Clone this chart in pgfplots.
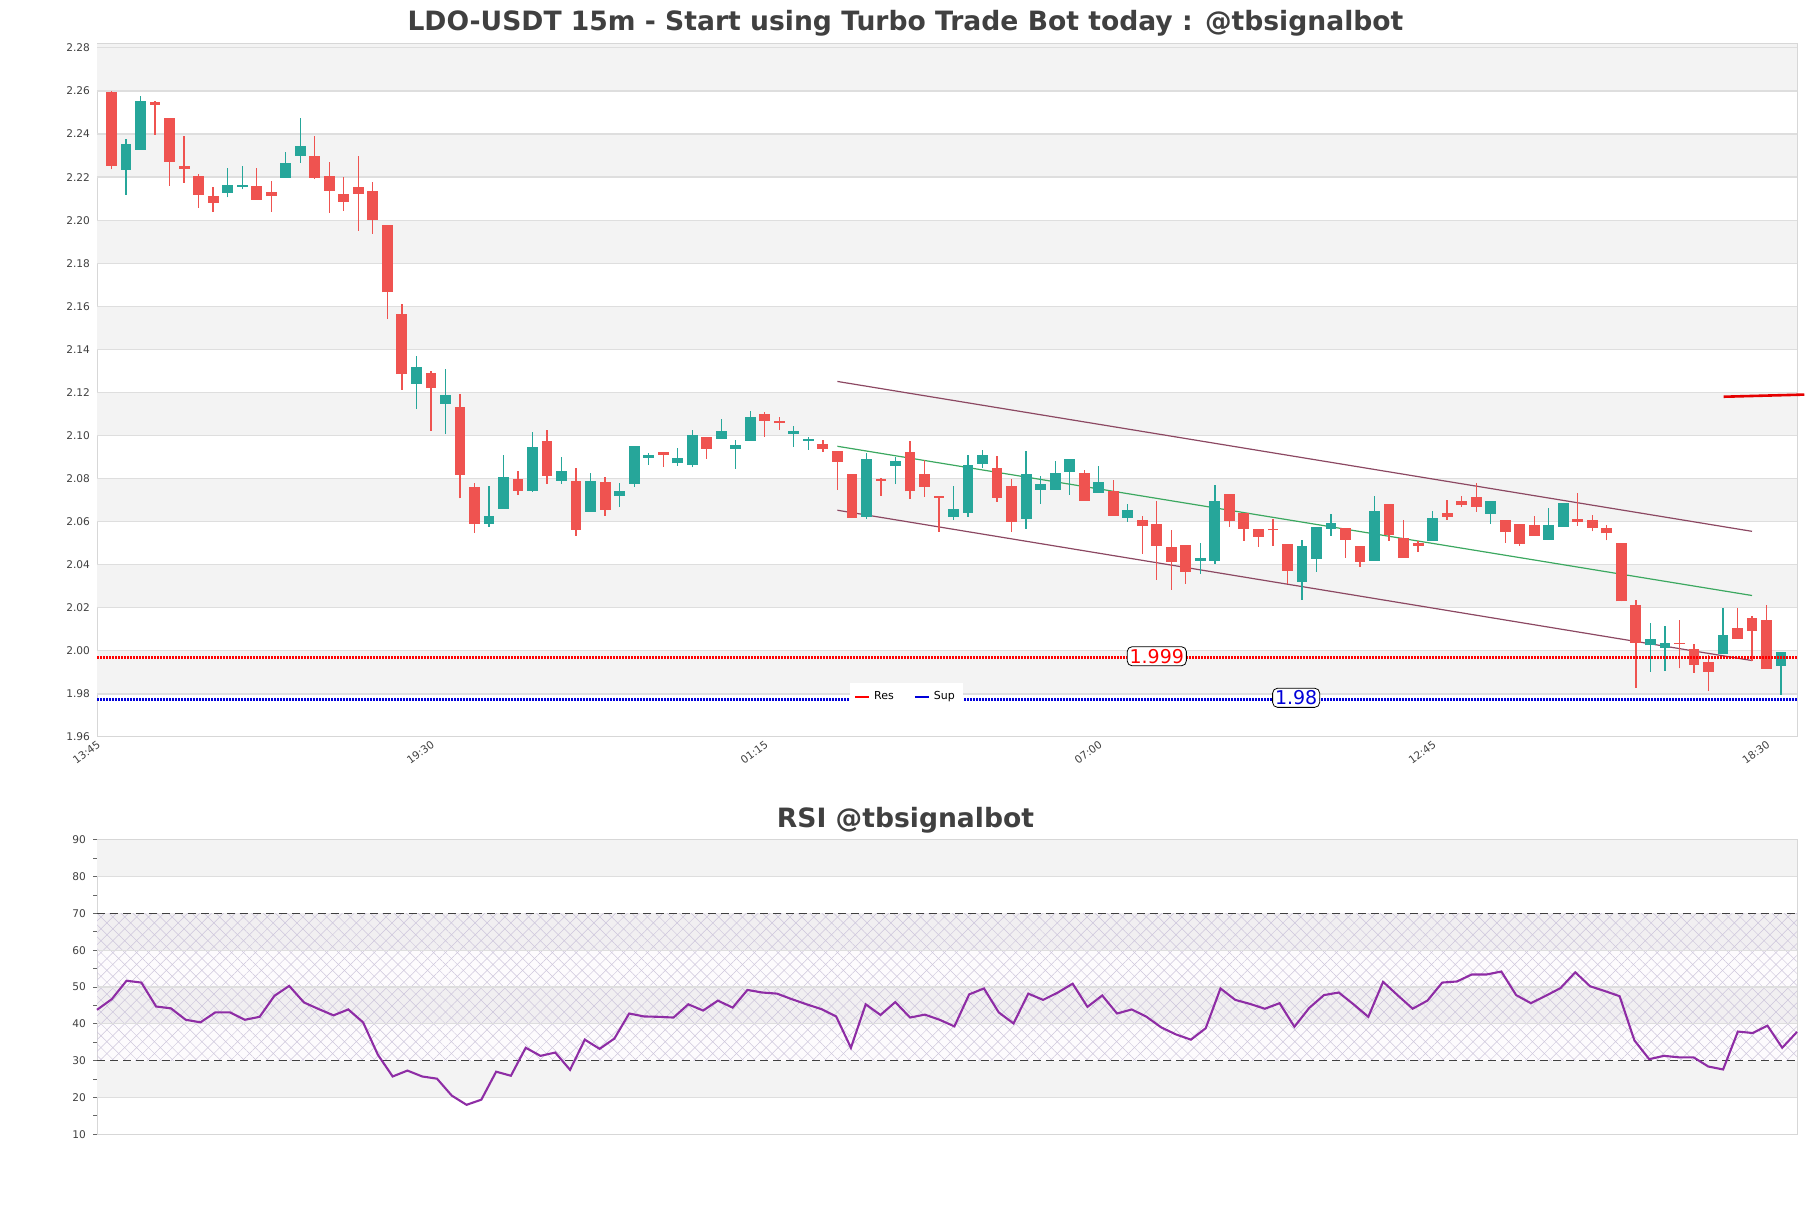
\documentclass[border=0pt]{standalone}
\usepackage{pgfplots}
\pgfplotsset{compat=1.18}
\usepackage{pgfplotstable}
\usepackage{fontspec}
\setmainfont{DejaVu Sans}
\usetikzlibrary{patterns.meta}

\definecolor{cred}{RGB}{239,83,80}
\definecolor{cgreen}{RGB}{38,166,154}
\definecolor{band}{RGB}{243,243,243}
\definecolor{gridc}{RGB}{222,222,222}
\definecolor{chan}{RGB}{140,72,98}
\definecolor{midc}{RGB}{60,168,96}
\definecolor{rsic}{RGB}{142,45,165}
\definecolor{titlec}{RGB}{64,64,64}
\definecolor{framec}{RGB}{215,215,215}
\definecolor{hatchc}{RGB}{205,198,220}

\pgfplotstableread{
x o h l c
2 2.2235 2.2377 2.2119 2.2354
3 2.2328 2.2577 2.2328 2.2554
9 2.2128 2.2242 2.2106 2.2163
10 2.2156 2.2252 2.2143 2.2163
13 2.2198 2.2317 2.2198 2.2266
14 2.2300 2.2473 2.2267 2.2345
22 2.1240 2.1370 2.1122 2.1320
24 2.1148 2.1310 2.1006 2.1188
27 2.0591 2.0766 2.0577 2.0626
28 2.0660 2.0910 2.0660 2.0808
30 2.0744 2.1017 2.0739 2.0947
32 2.0791 2.0900 2.0777 2.0835
34 2.0647 2.0826 2.0647 2.0789
36 2.0721 2.0780 2.0670 2.0743
37 2.0777 2.0952 2.0763 2.0952
38 2.0897 2.0921 2.0865 2.0910
40 2.0870 2.0942 2.0859 2.0896
41 2.0863 2.1026 2.0852 2.1003
43 2.0986 2.1075 2.0986 2.1021
44 2.0939 2.0980 2.0846 2.0956
45 2.0976 2.1114 2.0976 2.1086
48 2.1009 2.1044 2.0948 2.1021
49 2.0976 2.0995 2.0934 2.0982
53 2.0623 2.0921 2.0614 2.0891
55 2.0860 2.0902 2.0774 2.0882
59 2.0623 2.0766 2.0609 2.0659
60 2.0642 2.0910 2.0623 2.0863
61 2.0869 2.0933 2.0848 2.0909
64 2.0614 2.0928 2.0567 2.0821
65 2.0748 2.0812 2.0684 2.0775
66 2.0748 2.0882 2.0748 2.0826
67 2.0832 2.0891 2.0725 2.0891
69 2.0735 2.0858 2.0735 2.0784
71 2.0619 2.0682 2.0600 2.0654
76 2.0419 2.0502 2.0358 2.0433
77 2.0419 2.0770 2.0405 2.0696
83 2.0322 2.0515 2.0238 2.0487
84 2.0428 2.0577 2.0368 2.0577
85 2.0568 2.0636 2.0535 2.0594
88 2.0419 2.0719 2.0419 2.0650
92 2.0512 2.0650 2.0512 2.0617
96 2.0637 2.0696 2.0591 2.0696
100 2.0517 2.0664 2.0517 2.0585
101 2.0577 2.0687 2.0577 2.0687
107 2.0026 2.0128 1.9904 2.0055
108 2.0015 2.0115 1.9908 2.0035
112 1.9987 2.0198 1.9987 2.0072
116 1.9931 1.9993 1.9797 1.9993
}\upcandles

\pgfplotstableread{
x o h l c
1 2.2595 2.2600 2.2236 2.2253
4 2.2549 2.2554 2.2397 2.2537
5 2.2475 2.2475 2.2160 2.2272
6 2.2252 2.2391 2.2174 2.2239
7 2.2205 2.2215 2.2058 2.2119
8 2.2112 2.2156 2.2040 2.2081
11 2.2159 2.2242 2.2095 2.2095
12 2.2131 2.2182 2.2040 2.2114
15 2.2298 2.2391 2.2193 2.2198
16 2.2205 2.2270 2.2035 2.2137
17 2.2122 2.2200 2.2044 2.2086
18 2.2154 2.2298 2.1951 2.2123
19 2.2136 2.2177 2.1937 2.2002
20 2.1978 2.1978 2.1540 2.1665
21 2.1564 2.1610 2.1212 2.1285
23 2.1290 2.1300 2.1023 2.1220
25 2.1133 2.1193 2.0708 2.0818
26 2.0761 2.0778 2.0549 2.0591
29 2.0798 2.0837 2.0726 2.0744
31 2.0975 2.1026 2.0777 2.0814
33 2.0789 2.0850 2.0535 2.0563
35 2.0784 2.0808 2.0628 2.0656
39 2.0924 2.0924 2.0856 2.0911
42 2.0992 2.0992 2.0893 2.0939
46 2.1100 2.1108 2.0995 2.1069
47 2.1068 2.1085 2.1026 2.1058
50 2.0961 2.0980 2.0925 2.0939
51 2.0930 2.0930 2.0747 2.0879
52 2.0821 2.0821 2.0619 2.0619
54 2.0797 2.0801 2.0721 2.0790
56 2.0924 2.0975 2.0704 2.0740
57 2.0821 2.0885 2.0716 2.0763
58 2.0719 2.0719 2.0554 2.0712
62 2.0848 2.0905 2.0693 2.0711
63 2.0765 2.0796 2.0553 2.0600
68 2.0826 2.0840 2.0697 2.0697
70 2.0744 2.0793 2.0628 2.0628
72 2.0609 2.0628 2.0451 2.0581
73 2.0589 2.0697 2.0330 2.0488
74 2.0482 2.0563 2.0284 2.0414
75 2.0492 2.0492 2.0312 2.0368
78 2.0728 2.0728 2.0577 2.0605
79 2.0642 2.0642 2.0512 2.0567
80 2.0567 2.0567 2.0484 2.0530
81 2.0566 2.0611 2.0489 2.0559
82 2.0496 2.0496 2.0309 2.0372
86 2.0571 2.0571 2.0433 2.0517
87 2.0487 2.0487 2.0391 2.0414
89 2.0684 2.0684 2.0512 2.0540
90 2.0524 2.0608 2.0433 2.0433
91 2.0499 2.0512 2.0461 2.0489
93 2.0641 2.0701 2.0609 2.0623
94 2.0696 2.0719 2.0670 2.0675
95 2.0715 2.0780 2.0645 2.0670
97 2.0608 2.0608 2.0503 2.0551
98 2.0589 2.0589 2.0489 2.0498
99 2.0585 2.0627 2.0535 2.0535
102 2.0611 2.0733 2.0582 2.0600
103 2.0606 2.0630 2.0555 2.0572
104 2.0569 2.0583 2.0513 2.0546
105 2.0499 2.0499 2.0230 2.0230
106 2.0212 2.0236 1.9829 2.0038
109 2.0038 2.0143 1.9919 2.0032
110 2.0007 2.0031 1.9899 1.9936
111 1.9947 1.9980 1.9815 1.9904
113 2.0106 2.0198 2.0057 2.0057
114 2.0151 2.0162 1.9955 2.0094
115 2.0142 2.0212 1.9918 1.9918
}\downcandles

\pgfplotstableread{
k r
0 43.8
1 46.7
2 51.7
3 51.2
4 44.7
5 44.2
6 41.1
7 40.4
8 43.1
9 43.1
10 41.1
11 41.9
12 47.6
13 50.3
14 45.8
15 44.0
16 42.3
17 43.9
18 40.4
19 31.6
20 25.7
21 27.3
22 25.7
23 25.1
24 20.5
25 18.0
26 19.4
27 27.0
28 25.9
29 33.5
30 31.3
31 32.2
32 27.5
33 35.7
34 33.2
35 36.0
36 42.8
37 42.0
38 41.9
39 41.7
40 45.3
41 43.6
42 46.3
43 44.4
44 49.2
45 48.5
46 48.2
47 46.7
48 45.3
49 44.0
50 42.0
51 33.5
52 45.3
53 42.4
54 45.9
55 41.7
56 42.5
57 41.1
58 39.3
59 48.0
60 49.6
61 43.1
62 40.1
63 48.2
64 46.5
65 48.5
66 50.9
67 44.6
68 47.7
69 42.8
70 43.9
71 41.9
72 39.0
73 37.1
74 35.7
75 38.8
76 49.6
77 46.5
78 45.4
79 44.1
80 45.6
81 39.2
82 44.3
83 47.8
84 48.5
85 45.3
86 41.9
87 51.4
88 47.7
89 44.1
90 46.3
91 51.2
92 51.5
93 53.4
94 53.4
95 54.2
96 47.8
97 45.6
98 47.6
99 49.7
100 54.0
101 50.2
102 48.9
103 47.5
104 35.5
105 30.4
106 31.3
107 30.9
108 30.9
109 28.4
110 27.6
111 37.9
112 37.5
113 39.5
114 33.5
115 37.8
}\rsidata

\begin{document}
\begin{tikzpicture}
\path[use as bounding box] (0pt,0pt) rectangle (905.5pt,-604pt);
\node[font=\fontsize{13.3}{16}\selectfont\bfseries, text=titlec] at (452.75pt,-11.5pt) {LDO-USDT 15m - Start using Turbo Trade Bot today : @tbsignalbot};
\node[font=\fontsize{13.3}{16}\selectfont\bfseries, text=titlec] at (452.75pt,-410pt) {RSI @tbsignalbot};

% ---------------- main price axis
\begin{axis}[
  at={(48.5pt,-22pt)}, anchor=north west,
  width=850pt, height=346.5pt, scale only axis,
  xmin=0, xmax=117.1, ymin=1.96, ymax=2.2818,
  clip=false,
  axis line style={framec, line width=0.5pt},
  ytick={1.96,1.98,...,2.281},
  xtick={0,23,46,69,92,115},
  xticklabels={13:45,19:30,01:15,07:00,12:45,18:30},
  major tick length=0pt,
  /pgf/number format/assume math mode=true,
  yticklabel={\pgfmathprintnumber[fixed,fixed zerofill,precision=2]{\tick}},
  yticklabel style={font=\fontsize{5.3}{6}\selectfont, text=black!75},
  xticklabel style={font=\fontsize{5.3}{6}\selectfont, text=black!75, rotate=36, anchor=north east, inner sep=1pt},
  legend style={at={(0.4762,0.0584)}, anchor=center, draw=none, fill=white,
    font=\fontsize{5.5}{6}\selectfont, legend columns=2,
    /tikz/every even column/.append style={column sep=8pt}, inner sep=2.2pt},
  legend image code/.code={\draw[#1, solid, line width=1pt] (0pt,0pt) -- (7pt,0pt);},
]
% background bands
\fill[band] (axis cs:0,2.26) rectangle (axis cs:117.1,2.2818);
\fill[band] (axis cs:0,2.22) rectangle (axis cs:117.1,2.24);
\fill[band] (axis cs:0,2.18) rectangle (axis cs:117.1,2.20);
\fill[band] (axis cs:0,2.14) rectangle (axis cs:117.1,2.16);
\fill[band] (axis cs:0,2.10) rectangle (axis cs:117.1,2.12);
\fill[band] (axis cs:0,2.06) rectangle (axis cs:117.1,2.08);
\fill[band] (axis cs:0,2.02) rectangle (axis cs:117.1,2.04);
\fill[band] (axis cs:0,1.98) rectangle (axis cs:117.1,2.00);
\pgfplotsinvokeforeach{1.98,2.00,2.02,2.04,2.06,2.08,2.10,2.12,2.14,2.16,2.18,2.20,2.22,2.24,2.26,2.28}{
  \draw[gridc, line width=0.6pt] (axis cs:0,#1) -- (axis cs:117.1,#1);
}

% channel lines
\addplot[forget plot, chan, line width=0.6pt] coordinates {(51,2.1251) (114,2.0555)};
\addplot[forget plot, midc, line width=0.6pt] coordinates {(51,2.0950) (114,2.0257)};
\addplot[forget plot, chan, line width=0.6pt] coordinates {(51,2.0653) (114,1.9955)};

% wicks
\addplot[forget plot, draw=none, mark=none,
  error bars/.cd, y dir=plus, y explicit, error mark=none,
  error bar style={draw=cgreen, line width=0.65pt}]
  table[x=x, y=l, y error plus expr=\thisrow{h}-\thisrow{l}] {\upcandles};
\addplot[forget plot, draw=none, mark=none,
  error bars/.cd, y dir=plus, y explicit, error mark=none,
  error bar style={draw=cred, line width=0.65pt}]
  table[x=x, y=l, y error plus expr=\thisrow{h}-\thisrow{l}] {\downcandles};
% bodies
\addplot[forget plot, draw=none, mark=none,
  error bars/.cd, y dir=plus, y explicit, error mark=none,
  error bar style={draw=cgreen, line width=5.4pt}]
  table[x=x, y=o, y error plus expr=\thisrow{c}-\thisrow{o}] {\upcandles};
\addplot[forget plot, draw=none, mark=none,
  error bars/.cd, y dir=plus, y explicit, error mark=none,
  error bar style={draw=cred, line width=5.4pt}]
  table[x=x, y=c, y error plus expr=\thisrow{o}-\thisrow{c}] {\downcandles};

% red short line top right
\addplot[forget plot, red!90!black, line width=1.3pt] coordinates {(112.05,2.1180) (117.6,2.1190)};

% support / resistance
\addplot[red, line width=1.2pt, dash pattern=on 1pt off 0.5pt] coordinates {(0,1.9970) (117.1,1.9970)};
\addlegendentry{Res}
\addplot[blue!85!black, line width=1.2pt, dash pattern=on 1pt off 0.5pt] coordinates {(0,1.9775) (117.1,1.9775)};
\addlegendentry{Sup}

\node[draw=black, fill=white, rounded corners=2.5pt, inner sep=1.2pt, text=red,
  font=\fontsize{9.5}{10}\selectfont] at (axis cs:73.0,1.9975) {1.999};
\node[draw=black, fill=white, rounded corners=2.5pt, inner sep=1.2pt, text=blue!85!black,
  font=\fontsize{9.5}{10}\selectfont] at (axis cs:82.6,1.9782) {1.98};
\end{axis}

% ---------------- RSI axis
\begin{axis}[
  at={(48.5pt,-419.85pt)}, anchor=north west,
  width=850pt, height=147.3pt, scale only axis,
  xmin=0, xmax=115, ymin=10, ymax=90,
  clip=false,
  axis line style={framec, line width=0.5pt},
  xtick=\empty,
  ytick={10,20,...,90},
  minor ytick={15,25,...,85},
  tick align=outside,
  major tick length=2pt, minor tick length=2pt,
  every tick/.style={black!60, line width=0.4pt},
  ytick pos=left,
  /pgf/number format/assume math mode=true,
  yticklabel style={font=\fontsize{5.3}{6}\selectfont, text=black!75},
]
\fill[band] (axis cs:0,80) rectangle (axis cs:115,90);
\fill[band] (axis cs:0,60) rectangle (axis cs:115,70);
\fill[band] (axis cs:0,40) rectangle (axis cs:115,50);
\fill[band] (axis cs:0,20) rectangle (axis cs:115,30);
\fill[violet!30, opacity=0.05] (axis cs:0,30) rectangle (axis cs:115,70);
\fill[pattern={Lines[angle=45,distance=4.2pt,line width=0.25pt]}, pattern color=hatchc] (axis cs:0,30) rectangle (axis cs:115,70);
\fill[pattern={Lines[angle=135,distance=4.2pt,line width=0.25pt]}, pattern color=hatchc] (axis cs:0,30) rectangle (axis cs:115,70);
\pgfplotsinvokeforeach{20,40,50,60,80}{
  \draw[gridc, line width=0.6pt] (axis cs:0,#1) -- (axis cs:115,#1);
}
\addplot[forget plot, black!75, line width=0.6pt, dash pattern=on 4pt off 2.5pt] coordinates {(0,70) (115,70)};
\addplot[forget plot, black!75, line width=0.6pt, dash pattern=on 4pt off 2.5pt] coordinates {(0,30) (115,30)};
\addplot[forget plot, rsic, line width=1.05pt] table[x=k, y=r] {\rsidata};
\end{axis}
\end{tikzpicture}
\end{document}
